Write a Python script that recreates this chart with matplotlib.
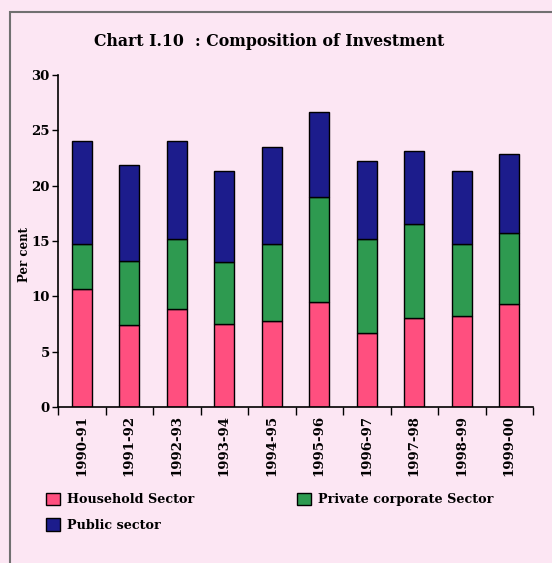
import numpy as np
import matplotlib.pyplot as plt
from matplotlib.patches import Rectangle, Patch

# composition of investment, per cent of GDP
years = ["1990-91", "1991-92", "1992-93", "1993-94", "1994-95",
         "1995-96", "1996-97", "1997-98", "1998-99", "1999-00"]
household = [10.7, 7.4, 8.9, 7.5, 7.8, 9.5, 6.7, 8.0, 8.2, 9.3]
private_corp = [4.0, 5.8, 6.3, 5.6, 6.9, 9.5, 8.5, 8.5, 6.5, 6.4]
public = [9.3, 8.7, 8.8, 8.2, 8.8, 7.7, 7.0, 6.6, 6.6, 7.2]

bg = "#fce6f3"
c_house = "#ff4f7f"
c_priv = "#2e9a50"
c_pub = "#1c1c8c"

plt.rcParams["font.family"] = ["DejaVu Serif"]
plt.rcParams["font.weight"] = "bold"

fig = plt.figure(figsize=(5.52, 5.63), dpi=100, facecolor=bg)
ax = fig.add_axes([58 / 552, 1 - 407 / 563, 475 / 552, 332 / 563])
ax.set_facecolor(bg)

# frame around the chart (only left/top visible in the original)
fig.patches.append(Rectangle((10 / 552, -0.05), 1.2, 1 - 12 / 563 + 0.05,
                             transform=fig.transFigure, fill=False,
                             edgecolor="#707070", linewidth=1.5))

x = np.arange(len(years))
h = np.array(household)
p = np.array(private_corp)
u = np.array(public)
w = 0.42
ax.bar(x, h, w, color=c_house, edgecolor="black", linewidth=1)
ax.bar(x, p, w, bottom=h, color=c_priv, edgecolor="black", linewidth=1)
ax.bar(x, u, w, bottom=h + p, color=c_pub, edgecolor="black", linewidth=1)

ax.set_xlim(-0.5, len(years) - 0.5)
ax.set_ylim(0, 30)
ax.set_yticks(range(0, 31, 5))
ax.set_xticks(x)
ax.set_xticklabels(years, rotation=90, fontsize=9.5, fontweight="bold")
ax.tick_params(axis="x", length=0, pad=6)
ax.set_xticks(np.arange(-0.5, len(years)), minor=True)
ax.tick_params(axis="x", which="minor", length=6, width=1, direction="out")
ax.tick_params(axis="y", length=4, width=1, labelsize=9.5, pad=2)
for s in ["top", "right"]:
    ax.spines[s].set_visible(False)
for s in ["left", "bottom"]:
    ax.spines[s].set_linewidth(1.2)
ax.set_ylabel("Per cent", fontsize=8.5, fontweight="bold")
ax.yaxis.set_label_coords(-0.057, 0.46)

fig.text(0.487, 1 - 42 / 563, "Chart I.10  : Composition of Investment",
         ha="center", va="center", fontsize=11.3, fontweight="bold")

handles = [Patch(facecolor=c_house, edgecolor="black"),
           Patch(facecolor=c_pub, edgecolor="black"),
           Patch(facecolor=c_priv, edgecolor="black")]
labels = ["Household Sector", "Public sector", "Private corporate Sector"]
fig.legend(handles, labels, ncol=2, loc="upper left",
           bbox_to_anchor=(34 / 552, 1 - 481 / 563), frameon=False,
           fontsize=9.2, handlelength=1.15, handleheight=1.15,
           handletextpad=0.5, columnspacing=8.05, labelspacing=0.95)

fig.savefig("out.png", dpi=100, facecolor=bg)
